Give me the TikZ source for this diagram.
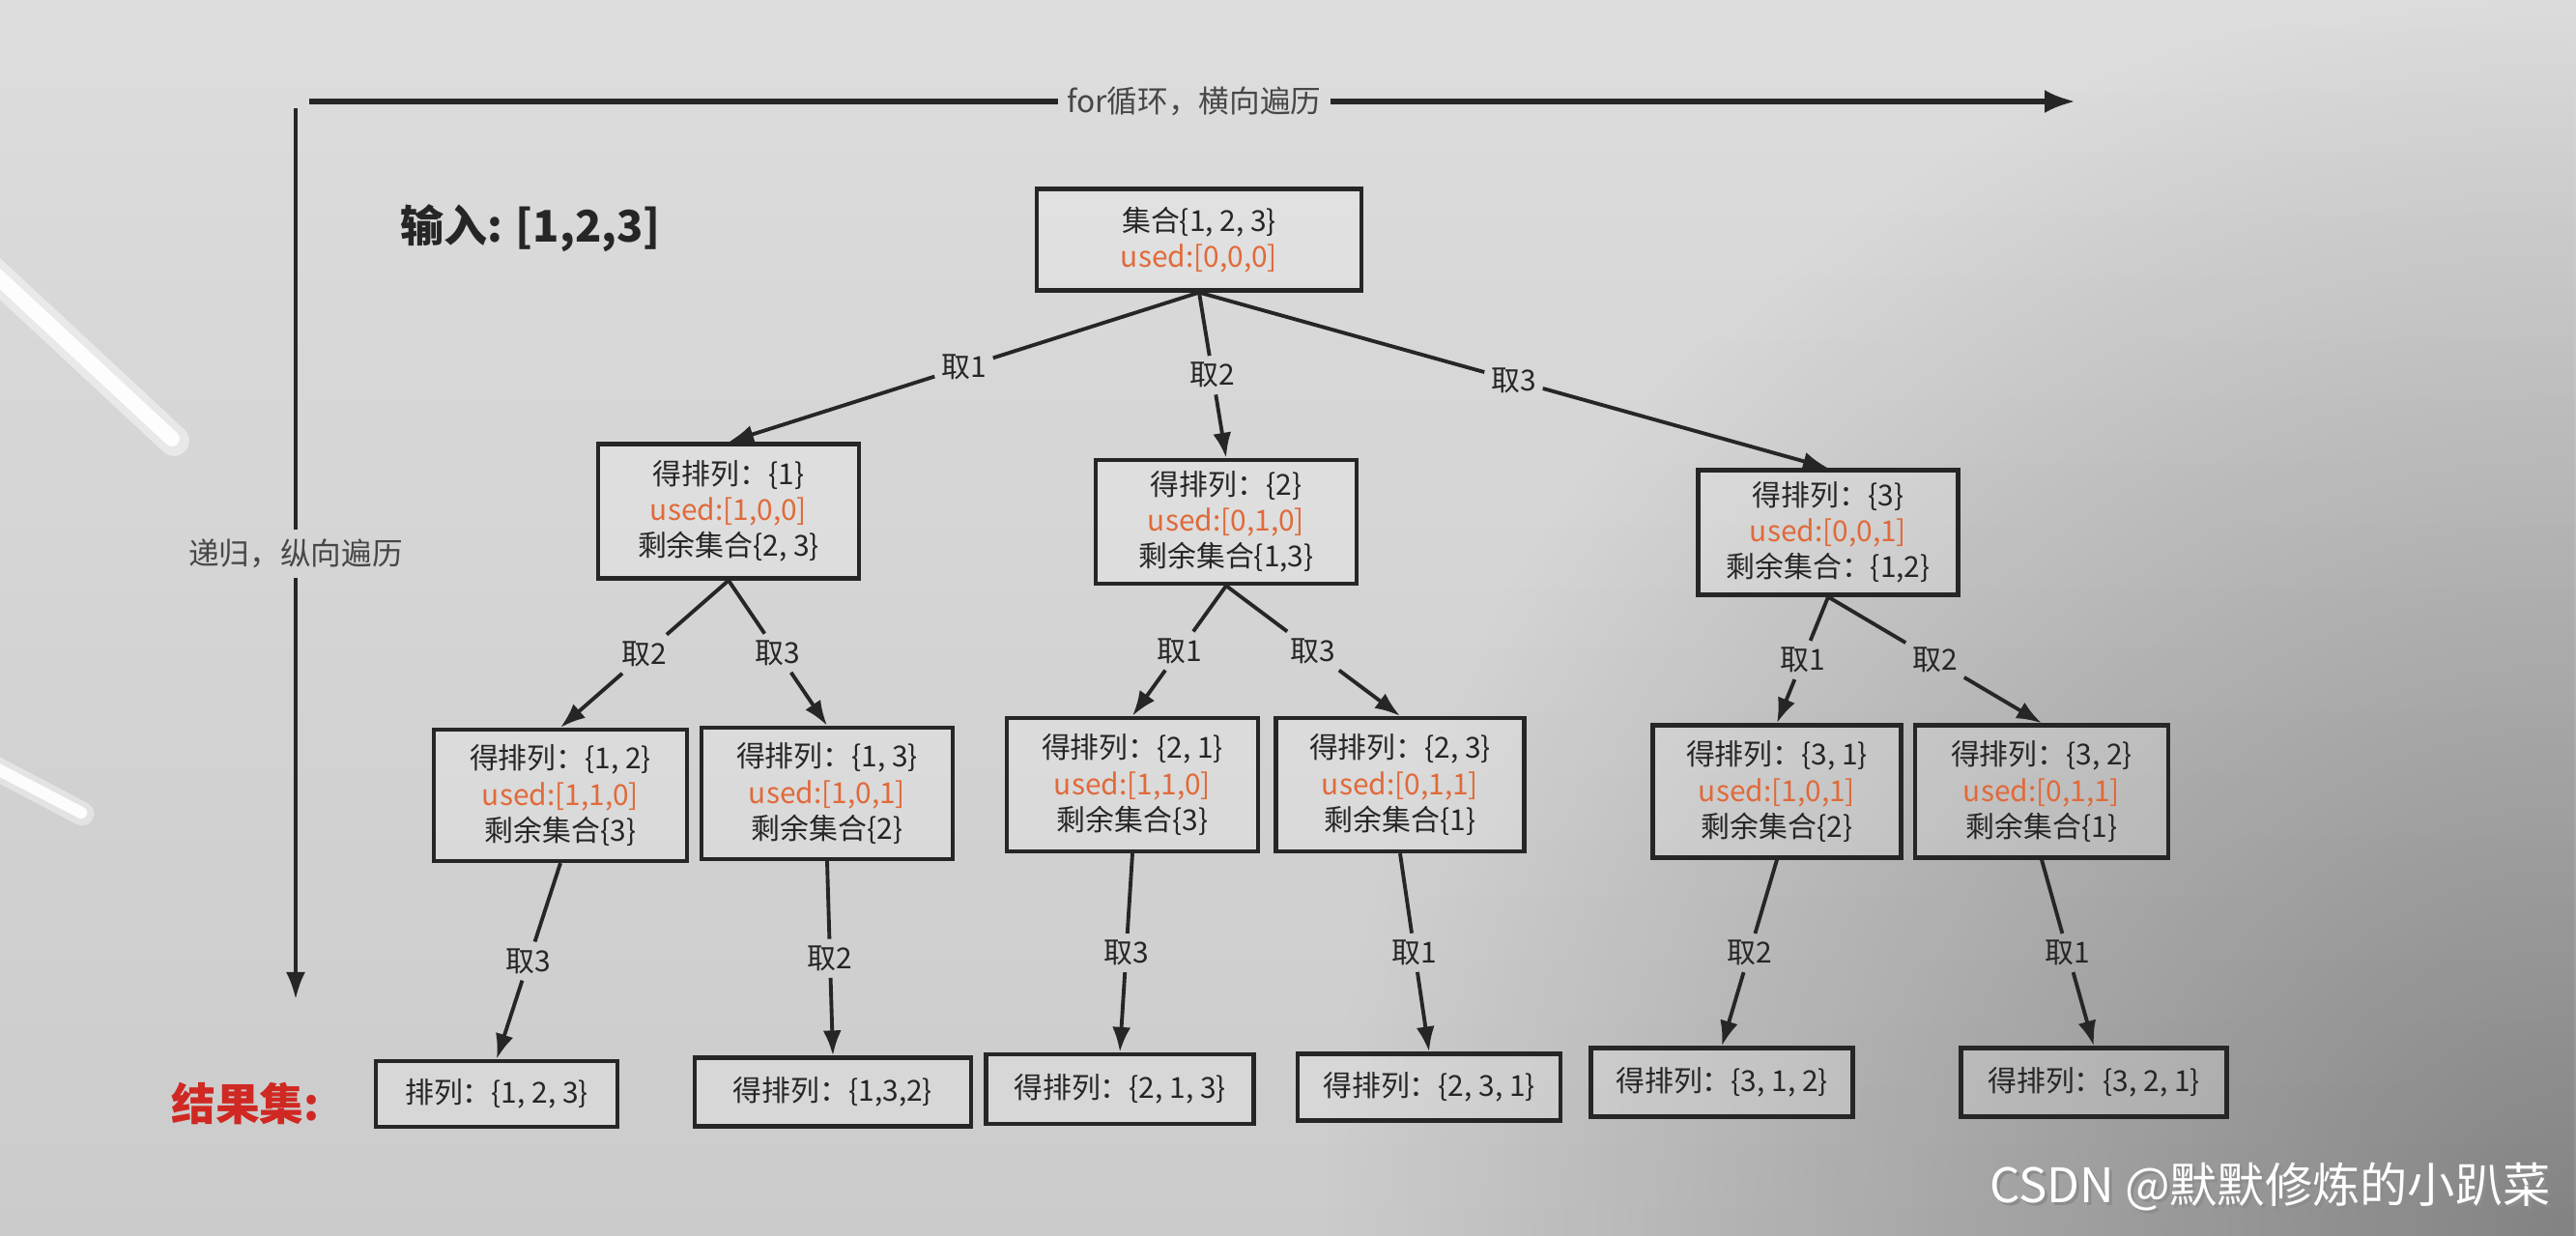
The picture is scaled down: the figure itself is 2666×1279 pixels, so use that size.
\documentclass[tikz,border=0pt]{standalone}
\usepackage{fontspec}
\setmainfont{Noto Sans CJK SC}
\usetikzlibrary{arrows.meta,fadings}

\definecolor{ink}{HTML}{262626}
\definecolor{usedc}{HTML}{E06A3A}
\definecolor{resred}{HTML}{D02822}
\definecolor{paper}{HTML}{DDDDDD}

\tikzfading[name=downfade, top color=transparent!100, bottom color=transparent!0]

\tikzset{
  x=0.01cm, y=-0.01cm,
  box/.style={draw=ink, line width=1.2pt, fill=white, fill opacity=0.2,
    text opacity=1, text=ink, align=center, inner sep=0pt,
    font=\fontsize{8.5}{10.6}\selectfont},
  link/.style={draw=ink, line width=1.1pt},
  edge/.style={link, -{Latex[length=0.26cm,width=0.19cm]}},
  pick/.style={inner sep=1.8pt, text=ink, font=\fontsize{8.5}{10}\selectfont},
  axislabel/.style={inner sep=2.5pt, text=ink!85, font=\fontsize{9}{10}\selectfont},
}
\newcommand{\usedtext}[1]{\textcolor{usedc}{used:[#1]}}
% a branch: parent, child, label text, label node name
\newcommand{\branch}[4]{%
  \path (#1.south) -- node[pick] (#4) {#3} (#2.north);
  \draw[link] (#1.south) -- (#4);
  \draw[edge] (#4) -- (#2.north);
}

\begin{document}
\begin{tikzpicture}
% paper background, darker towards the bottom and the lower-right corner
\useasboundingbox (0,0) rectangle (2666,1279);
\fill[paper] (0,0) rectangle (2666,1279);
\begin{scope}
  \clip (0,0) rectangle (2666,1279);
  \coordinate (corner) at (2666,1279);
  \shade[inner color=paper!64!black, outer color=paper] (corner) circle (13cm);
\end{scope}
\fill[black, opacity=0.08, path fading=downfade] (0,0) rectangle (2666,1279);

% glare streaks on the left edge
\draw[white, opacity=0.45, line width=9pt, line cap=round] (-20,270) -- (180,456);
\draw[white, opacity=0.95, line width=4.5pt, line cap=round] (-20,270) -- (178,454);
\draw[white, opacity=0.4, line width=7pt, line cap=round] (-10,792) -- (85,842);
\draw[white, opacity=0.9, line width=3.5pt, line cap=round] (-10,792) -- (84,841);

% axes
\coordinate (hs) at (320,105);
\coordinate (he) at (2148,105);
\coordinate (vs) at (306,112);
\coordinate (ve) at (306,1034);
\node[axislabel] (hlab) at (1236,105) {for循环，横向遍历};
\node[axislabel] (vlab) at (306,573) {递归，纵向遍历};
\draw[ink, line width=1.6pt] (hs) -- (hlab);
\draw[ink, line width=1.6pt, -{Latex[length=0.32cm,width=0.24cm]}] (hlab) -- (he);
\draw[ink, line width=1.1pt] (vs) -- (vlab);
\draw[ink, line width=1.1pt, -{Latex[length=0.28cm,width=0.2cm]}] (vlab) -- (ve);

% headings
\node[text=ink, font=\fontsize{12.8}{15}\selectfont\bfseries, anchor=west] (inp) at (402,236) {输入: [1,2,3]};
\node[text=resred, font=\fontsize{13}{15}\selectfont\bfseries] (res) at (254,1142) {结果集:};

% root
\node[box, minimum width=3.36cm, minimum height=1.05cm] (root) at (1241,248)
  {集合\{1, 2, 3\}\\ \usedtext{0,0,0}};

% first level
\node[box, minimum width=2.70cm, minimum height=1.39cm] (A) at (754,529)
  {得排列：\{1\}\\ \usedtext{1,0,0}\\ 剩余集合\{2, 3\}};
\node[box, minimum width=2.70cm, minimum height=1.28cm] (B) at (1269,540)
  {得排列：\{2\}\\ \usedtext{0,1,0}\\ 剩余集合\{1,3\}};
\node[box, minimum width=2.69cm, minimum height=1.29cm] (C) at (1892,551)
  {得排列：\{3\}\\ \usedtext{0,0,1}\\ 剩余集合：\{1,2\}};

% second level
\node[box, minimum width=2.62cm, minimum height=1.36cm] (AA) at (580,823)
  {得排列：\{1, 2\}\\ \usedtext{1,1,0}\\ 剩余集合\{3\}};
\node[box, minimum width=2.60cm, minimum height=1.36cm] (AB) at (856,821)
  {得排列：\{1, 3\}\\ \usedtext{1,0,1}\\ 剩余集合\{2\}};
\node[box, minimum width=2.60cm, minimum height=1.38cm] (BA) at (1172,812)
  {得排列：\{2, 1\}\\ \usedtext{1,1,0}\\ 剩余集合\{3\}};
\node[box, minimum width=2.57cm, minimum height=1.38cm] (BB) at (1449,812)
  {得排列：\{2, 3\}\\ \usedtext{0,1,1}\\ 剩余集合\{1\}};
\node[box, minimum width=2.57cm, minimum height=1.37cm] (CA) at (1839,819)
  {得排列：\{3, 1\}\\ \usedtext{1,0,1}\\ 剩余集合\{2\}};
\node[box, minimum width=2.62cm, minimum height=1.37cm] (CB) at (2113,819)
  {得排列：\{3, 2\}\\ \usedtext{0,1,1}\\ 剩余集合\{1\}};

% result set
\node[box, minimum width=2.50cm, minimum height=0.68cm] (R1) at (514,1132) {排列：\{1, 2, 3\}};
\node[box, minimum width=2.86cm, minimum height=0.71cm] (R2) at (862,1130) {得排列：\{1,3,2\}};
\node[box, minimum width=2.77cm, minimum height=0.72cm] (R3) at (1159,1127) {得排列：\{2, 1, 3\}};
\node[box, minimum width=2.72cm, minimum height=0.69cm] (R4) at (1479,1125) {得排列：\{2, 3, 1\}};
\node[box, minimum width=2.71cm, minimum height=0.71cm] (R5) at (1782,1120) {得排列：\{3, 1, 2\}};
\node[box, minimum width=2.75cm, minimum height=0.71cm] (R6) at (2167,1120) {得排列：\{3, 2, 1\}};

% branches
\branch{root}{A}{取1}{l1}
\branch{root}{B}{取2}{l2}
\branch{root}{C}{取3}{l3}

\branch{A}{AA}{取2}{l12}
\branch{A}{AB}{取3}{l13}
\branch{B}{BA}{取1}{l21}
\branch{B}{BB}{取3}{l23}
\branch{C}{CA}{取1}{l31}
\branch{C}{CB}{取2}{l32}

\branch{AA}{R1}{取3}{l123}
\branch{AB}{R2}{取2}{l132}
\branch{BA}{R3}{取3}{l213}
\branch{BB}{R4}{取1}{l231}
\branch{CA}{R5}{取2}{l312}
\branch{CB}{R6}{取1}{l321}

% watermark
\node[text=black!45, font=\fontsize{14}{16}\selectfont, anchor=east] (wms) at (2655,1231) {CSDN @默默修炼的小趴菜};
\node[text=white, font=\fontsize{14}{16}\selectfont, anchor=east] (wm) at (2652,1228) {CSDN @默默修炼的小趴菜};
\end{tikzpicture}
\end{document}
